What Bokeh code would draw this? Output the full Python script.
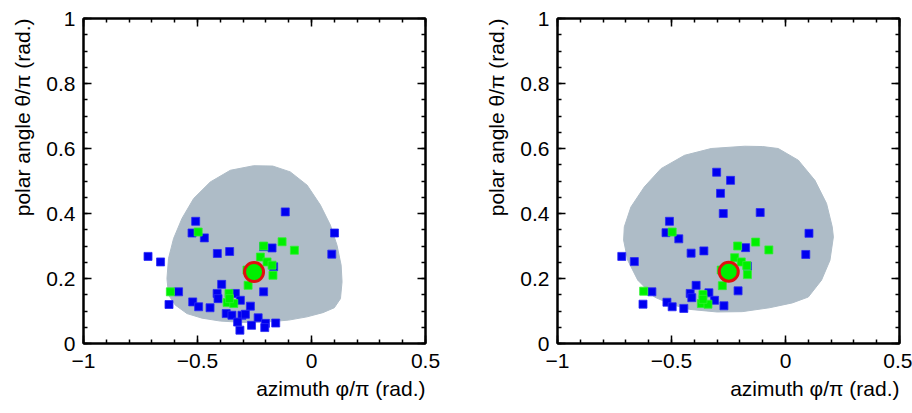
from bokeh.plotting import figure
from bokeh.layouts import row
from bokeh.models import Range1d, FixedTicker, LinearAxis, Title
from bokeh.embed import file_html
from bokeh.resources import INLINE
import numpy as np

# ---- left panel: acceptance region and hit directions ----
left_region_phi = [-0.254, -0.356, -0.444, -0.517, -0.568, -0.605, -0.627, -0.634, -0.627, -0.597,
                   -0.546, -0.48, -0.40, -0.30, -0.20, -0.10, -0.02, 0.05, 0.10, 0.127,
                   0.134, 0.130, 0.112, 0.083, 0.039, -0.019, -0.093, -0.17]
left_region_theta = [0.547, 0.533, 0.497, 0.446, 0.385, 0.323, 0.262, 0.200, 0.149, 0.118,
                     0.092, 0.078, 0.069, 0.065, 0.066, 0.072, 0.082, 0.095, 0.110, 0.138,
                     0.190, 0.241, 0.302, 0.364, 0.426, 0.487, 0.528, 0.546]

left_blue_phi = [-0.115, -0.508, -0.524, -0.470, 0.101, 0.089, -0.717, -0.662, -0.413, -0.359,
                 -0.173, -0.210, -0.166, -0.210, -0.583, -0.625, -0.521, -0.495, -0.445, -0.394,
                 -0.414, -0.410, -0.334, -0.312, -0.268, -0.374, -0.349, -0.305, -0.290, -0.234,
                 -0.324, -0.202, -0.157, -0.314, -0.263, -0.205]
left_blue_theta = [0.405, 0.376, 0.340, 0.325, 0.340, 0.275, 0.268, 0.251, 0.277, 0.283,
                   0.294, 0.298, 0.236, 0.159, 0.159, 0.120, 0.128, 0.113, 0.110, 0.182,
                   0.154, 0.138, 0.154, 0.133, 0.115, 0.092, 0.087, 0.087, 0.090, 0.079,
                   0.066, 0.062, 0.063, 0.041, 0.056, 0.049]

left_green_phi = [-0.497, -0.210, -0.129, -0.075, -0.224, -0.195, -0.173, -0.169, -0.278, -0.283,
                  -0.619, -0.362, -0.370, -0.341, -0.360]
left_green_theta = [0.343, 0.300, 0.313, 0.287, 0.266, 0.251, 0.241, 0.210, 0.179, 0.226,
                    0.159, 0.154, 0.126, 0.123, 0.138]

left_source_phi = [-0.252]
left_source_theta = [0.220]

# ---- right panel ----
right_region_phi = [-0.179, -0.326, -0.443, -0.546, -0.619, -0.678, -0.707, -0.710, -0.692, -0.648,
                    -0.575, -0.50, -0.42, -0.30, -0.19, -0.07, 0.03, 0.100, 0.158, 0.195,
                    0.210, 0.205, 0.180, 0.129, 0.056, -0.032, -0.10]
right_region_theta = [0.607, 0.600, 0.579, 0.538, 0.482, 0.420, 0.359, 0.318, 0.256, 0.195,
                      0.143, 0.120, 0.105, 0.097, 0.098, 0.110, 0.125, 0.143, 0.195, 0.256,
                      0.328, 0.359, 0.431, 0.502, 0.564, 0.600, 0.606]

right_blue_phi = [-0.302, -0.241, -0.285, -0.273, -0.111, 0.103, 0.089, -0.509, -0.524, -0.468,
                  -0.414, -0.358, -0.718, -0.663, -0.175, -0.167, -0.208, -0.586, -0.625, -0.520,
                  -0.497, -0.446, -0.392, -0.418, -0.411, -0.336, -0.311, -0.270]
right_blue_theta = [0.527, 0.502, 0.462, 0.400, 0.403, 0.339, 0.274, 0.376, 0.341, 0.322,
                    0.278, 0.285, 0.268, 0.252, 0.295, 0.238, 0.162, 0.159, 0.121, 0.127,
                    0.113, 0.108, 0.179, 0.154, 0.141, 0.156, 0.133, 0.116]

right_green_phi = [-0.497, -0.210, -0.131, -0.073, -0.223, -0.194, -0.170, -0.167, -0.277, -0.282,
                   -0.622, -0.362, -0.369, -0.340, -0.362]
right_green_theta = [0.343, 0.300, 0.312, 0.288, 0.264, 0.251, 0.240, 0.212, 0.178, 0.226,
                     0.161, 0.151, 0.123, 0.121, 0.136]

right_source_phi = [-0.249]
right_source_theta = [0.221]

x_major = [-1, -0.5, 0, 0.5]
x_labels = {-1: "\u22121", -0.5: "\u22120.5", 0: "0", 0.5: "0.5"}
y_major = [0, 0.2, 0.4, 0.6, 0.8, 1]
y_labels = {0: "0", 0.2: "0.2", 0.4: "0.4", 0.6: "0.6", 0.8: "0.8", 1: "1"}
x_title = "azimuth \u03c6/\u03c0 (rad.)"
y_title = "polar angle \u03b8/\u03c0 (rad.)"

FONT = "Liberation Sans"
FS = "21px"


def style_axis(ax, major, minor, overrides, show_labels, standoff):
    ax.ticker = FixedTicker(ticks=major, minor_ticks=minor)
    ax.axis_line_color = "black"
    ax.axis_line_width = 2
    ax.major_tick_in = 8
    ax.major_tick_out = 0
    ax.minor_tick_in = 4
    ax.minor_tick_out = 0
    ax.major_tick_line_color = "black"
    ax.minor_tick_line_color = "black"
    ax.major_tick_line_width = 1.5
    ax.minor_tick_line_width = 1.5
    ax.major_label_overrides = overrides
    ax.major_label_text_font = FONT
    if show_labels:
        ax.major_label_text_color = "black"
        ax.major_label_text_font_size = FS
        ax.major_label_standoff = standoff
    else:
        # mirrored tick marks only, no numbers
        ax.major_label_text_color = None
        ax.major_label_text_font_size = "1px"
        ax.major_label_standoff = 0


def make_panel(region_x, region_y, blue_x, blue_y, green_x, green_y, src_x, src_y,
               left_border, right_border):
    p = figure(width=left_border + 342 + right_border, height=413,
               x_range=Range1d(-1, 0.5), y_range=Range1d(0, 1),
               output_backend="svg", toolbar_location=None,
               min_border_left=left_border, min_border_right=right_border,
               min_border_top=18, min_border_bottom=70,
               x_axis_type=None, y_axis_type=None)
    p.grid.visible = False
    p.background_fill_color = "white"
    p.border_fill_color = "white"
    p.outline_line_color = "black"
    p.outline_line_width = 2

    x_minor = list(np.round(np.arange(-1, 0.51, 0.1), 2))
    y_minor = list(np.round(np.arange(0, 1.01, 0.05), 2))

    xb = LinearAxis()
    style_axis(xb, x_major, x_minor, x_labels, True, 10)
    p.add_layout(xb, "below")
    xt = LinearAxis()
    style_axis(xt, x_major, x_minor, x_labels, False, 0)
    p.add_layout(xt, "above")
    yl = LinearAxis()
    style_axis(yl, y_major, y_minor, y_labels, True, 8)
    p.add_layout(yl, "left")
    yr = LinearAxis()
    style_axis(yr, y_major, y_minor, y_labels, False, 0)
    p.add_layout(yr, "right")

    # axis titles, flush with the far end of each axis
    p.add_layout(Title(text=x_title, align="right", vertical_align="bottom",
                       text_font=FONT, text_font_size=FS, text_font_style="normal",
                       text_color="black", standoff=8), "below")
    p.add_layout(Title(text=y_title, align="right", vertical_align="middle",
                       text_font=FONT, text_font_size=FS, text_font_style="normal",
                       text_color="black", standoff=18), "left")

    # acceptance region
    p.patch(region_x, region_y, fill_color="#aebcc7", line_color="#aebcc7", line_width=1)
    # reconstructed directions
    p.scatter(blue_x, blue_y, marker="square", size=8, fill_color="#0000f0",
              line_color="#2a2af5", line_width=0.8)
    p.scatter(green_x, green_y, marker="square", size=8, fill_color="#00f000",
              line_color="#30f030", line_width=0.8)
    # true source direction
    p.scatter(src_x, src_y, marker="circle", size=19, fill_color="#00f000",
              line_color="#e01010", line_width=3)
    return p


p1 = make_panel(left_region_phi, left_region_theta, left_blue_phi, left_blue_theta,
                left_green_phi, left_green_theta, left_source_phi, left_source_theta, 83, 31)
p2 = make_panel(right_region_phi, right_region_theta, right_blue_phi, right_blue_theta,
                right_green_phi, right_green_theta, right_source_phi, right_source_theta, 101, 13)

layout = row(p1, p2)
open("out.html", "w").write(file_html(layout, INLINE))
